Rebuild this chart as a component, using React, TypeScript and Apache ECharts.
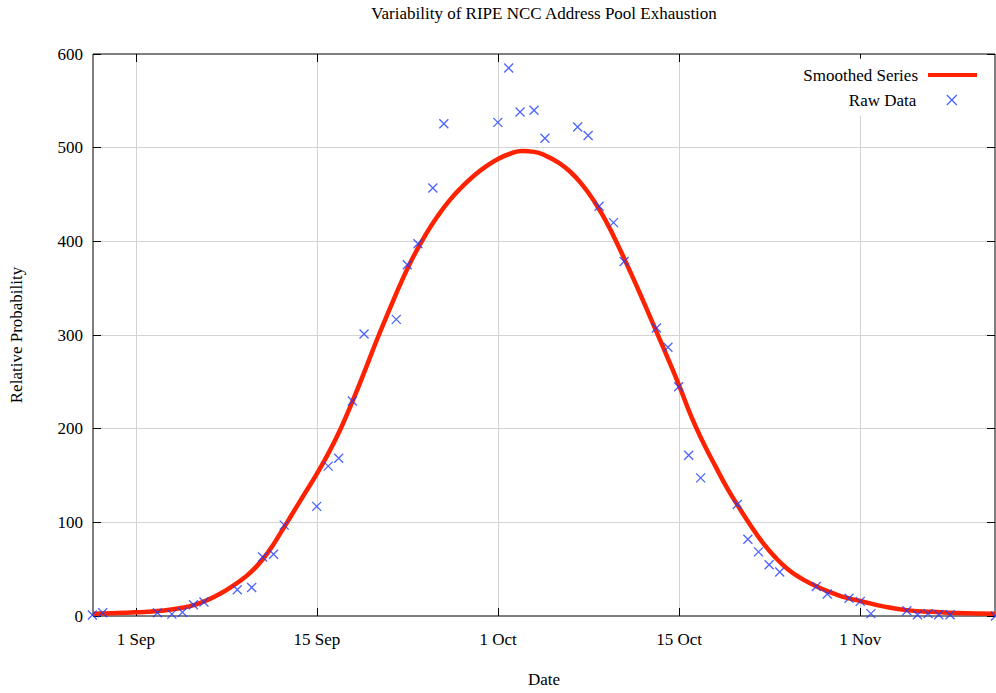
import React, { useEffect, useRef } from "react";
import * as echarts from "echarts";

// x unit: "day-like" position where tick positions are 0,15,30,45,60
const tickValues = [0, 15, 30, 45, 60];
const tickLabels = ["1 Sep", "15 Sep", "1 Oct", "15 Oct", "1 Nov"];
const yTicks = [0, 100, 200, 300, 400, 500, 600];

const rawX = [
  -3.6, -2.75, 1.79, 2.98, 3.86, 4.77, 5.64, 8.4, 9.59, 10.5, 11.4, 12.29,
  14.98, 15.93, 16.8, 17.93, 18.9, 21.57, 22.48, 23.36, 24.6, 25.51, 29.98,
  30.88, 31.82, 32.98, 33.88, 36.59, 37.46, 38.37, 39.56, 40.44, 43.12, 44.07,
  44.96, 45.79, 46.78, 49.81, 50.69, 51.57, 52.45, 53.33, 56.36, 57.27, 59.07,
  60.0, 60.88, 63.86, 64.74, 65.62, 66.5, 67.44, 71.2,
];
const rawY = [
  1, 3.5, 3.5, 2, 4, 12, 15, 28, 30.5, 63, 66, 97, 117, 160, 168.5, 229.5, 301,
  316.7, 375, 397.5, 457, 525.5, 527, 585, 538, 540, 510, 522, 513, 437.5, 420,
  378.5, 307.5, 287, 244.7, 171.6, 147.5, 119, 82, 68.5, 54.7, 47, 31.5, 23.4,
  19, 15.6, 2.5, 5.6, 1.4, 2.5, 1.4, 1.4, 0,
];

const smoothX = [
  -3.55, -2, 0, 2, 4, 5, 6, 7, 8, 9, 10, 11, 12, 13, 14, 15, 16, 17, 18, 19,
  20, 21, 22, 23, 24, 25, 26, 27, 28, 29, 30, 31, 32, 33, 34, 35, 36, 37, 38,
  39, 40, 41, 42, 43, 44, 45, 46, 47, 48, 49, 50, 51, 52, 53, 54, 55, 56, 57,
  58, 59, 60, 62, 64, 66, 68, 71.16,
];
const smoothY = [
  2.5, 3, 4, 5.5, 9, 12.5, 17.5, 24, 32, 41, 53, 69, 89, 110, 131, 152, 175,
  201, 231, 263, 296, 327, 357, 384, 407, 427, 444, 458, 470, 480, 488, 493.5,
  496.5, 495.5, 491, 484, 474, 460, 442, 420, 394, 366, 337, 307, 277, 246, 213,
  185, 160, 136, 115, 95, 77, 62, 50, 41, 34, 28, 23, 19, 16, 10, 6, 4.5, 3.3,
  2.5,
];

const FONT = "'Liberation Serif', 'Times New Roman', Times, serif";
const RED = "#ff2200";
const BLUE = "#1f3cff";
const X_MIN = -3.55;
const X_MAX = 71.16;

export default function App() {
  const ref = useRef<HTMLDivElement>(null);
  useEffect(() => {
    const chart = echarts.init(ref.current!, null, { renderer: "svg" });
    const labelFor = (v: number) => {
      const i = tickValues.findIndex((t) => Math.abs(t - v) < 1e-6);
      return i >= 0 ? tickLabels[i] : "";
    };
    const textBase = { fontFamily: FONT, fontSize: 17, color: "#000" };
    const tickStyle = {
      show: true,
      inside: true,
      length: 8,
      lineStyle: { color: "#000", width: 1 },
    };
    chart.setOption({
      animation: false,
      backgroundColor: "#fff",
      title: {
        text: "Variability of RIPE NCC Address Pool Exhaustion",
        left: 544,
        top: 5,
        textAlign: "center",
        padding: 0,
        textStyle: { ...textBase, fontWeight: "normal" },
      },
      grid: {
        left: 91,
        right: 1,
        top: 54,
        bottom: 75,
        show: true,
        borderColor: "#000",
        borderWidth: 1,
        backgroundColor: "transparent",
      },
      legend: [
        {
          data: [{ name: "Smoothed Series", icon: "rect" }],
          right: 14,
          top: 58.5,
          orient: "vertical",
          align: "right",
          itemWidth: 49,
          itemHeight: 4,
          padding: [8, 5, 4, 5],
          backgroundColor: "#fff",
          itemStyle: { color: RED },
          textStyle: { ...textBase, padding: [0, 5, 0, 0] },
        },
        {
          data: ["Raw Data"],
          right: 33.5,
          top: 87.5,
          orient: "vertical",
          align: "right",
          itemWidth: 10,
          itemHeight: 10,
          padding: [4, 5, 7, 5],
          backgroundColor: "#fff",
          textStyle: { ...textBase, padding: [0, 25.5, 0, 0] },
          itemStyle: { color: BLUE, borderColor: BLUE, borderWidth: 1.3 },
        },
      ],
      xAxis: [
        {
          type: "value",
          position: "bottom",
          min: X_MIN,
          max: X_MAX,
          name: "Date",
          nameLocation: "middle",
          nameGap: 55,
          nameTextStyle: textBase,
          axisLine: { show: false, onZero: false },
          axisTick: { ...tickStyle, customValues: tickValues },
          axisLabel: {
            customValues: tickValues,
            formatter: labelFor,
            margin: 15,
            ...textBase,
          },
          splitLine: { show: true, lineStyle: { color: "#d3d3d3", width: 1 } },
        },
        {
          type: "value",
          position: "top",
          min: X_MIN,
          max: X_MAX,
          axisLine: { show: false, onZero: false },
          axisTick: { ...tickStyle, customValues: tickValues },
          axisLabel: { show: false },
          splitLine: { show: false },
        },
      ],
      yAxis: [
        {
          type: "value",
          position: "left",
          min: yTicks[0],
          max: yTicks[yTicks.length - 1],
          interval: 100,
          name: "Relative Probability",
          nameLocation: "middle",
          nameGap: 68,
          nameTextStyle: textBase,
          axisLine: { show: false, onZero: false },
          axisTick: tickStyle,
          axisLabel: { margin: 10, ...textBase },
          splitLine: {
            show: true,
            showMinLine: false,
            showMaxLine: false,
            lineStyle: { color: "#d3d3d3", width: 1 },
          },
        },
        {
          type: "value",
          position: "right",
          min: yTicks[0],
          max: yTicks[yTicks.length - 1],
          interval: 100,
          axisLine: { show: false, onZero: false },
          axisTick: tickStyle,
          axisLabel: { show: false },
          splitLine: { show: false },
        },
      ],
      series: [
        {
          name: "Smoothed Series",
          type: "line",
          xAxisIndex: 0,
          yAxisIndex: 0,
          data: smoothX.map((x, i) => [x, smoothY[i]]),
          symbol: "none",
          showSymbol: false,
          smooth: true,
          lineStyle: { color: RED, width: 4.5 },
          itemStyle: { color: RED },
          z: 2,
        },
        {
          name: "Raw Data",
          type: "scatter",
          xAxisIndex: 0,
          yAxisIndex: 0,
          data: rawX.map((x, i) => [x, rawY[i]]),
          symbol: "path://M0,0L10,10M10,0L0,10",
          symbolSize: 9,
          clip: false,
          itemStyle: { color: BLUE, borderColor: BLUE, borderWidth: 1.3 },
          z: 3,
        },
      ],
    });
    return () => chart.dispose();
  }, []);
  return (
    <div
      ref={ref}
      style={{ position: "fixed", left: 0, top: 0, width: 996, height: 693 }}
    />
  );
}
